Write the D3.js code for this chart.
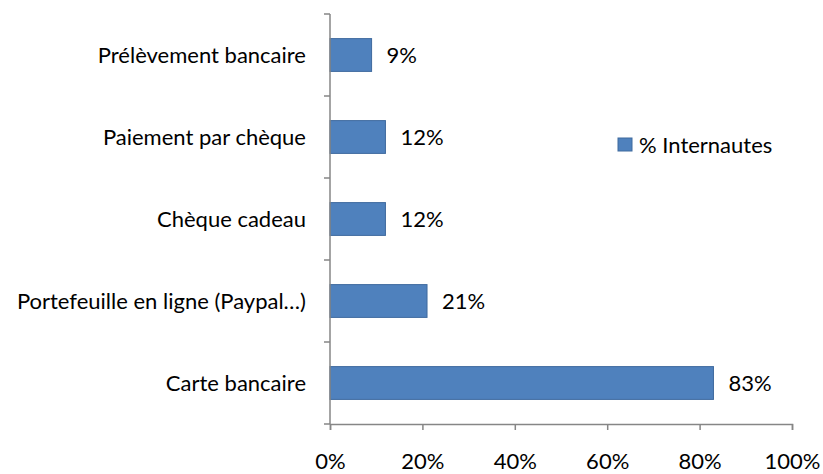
<!DOCTYPE html>
<html>
<head>
<meta charset="utf-8">
<script src="https://cdn.jsdelivr.net/npm/d3@7"></script>
<style>
  body { margin: 0; background: #fff; }
  svg text { font-family: Lato, "Open Sans", sans-serif; font-size: 22px; fill: #000; }
</style>
</head>
<body>
<svg id="chart"></svg>
<script>
// values, top to bottom
const categories = ["Prélèvement bancaire", "Paiement par chèque", "Chèque cadeau", "Portefeuille en ligne (Paypal…)", "Carte bancaire"];
const values = [9, 12, 12, 21, 83];
const xTicks = [0, 20, 40, 60, 80, 100];
const seriesName = "% Internautes";

const W = 823, H = 474;
const margin = { top: 14, right: 31, bottom: 50, left: 330 };
const width = W - margin.left - margin.right;
const height = H - margin.top - margin.bottom;

const svg = d3.select("#chart").attr("width", W).attr("height", H);
const g = svg.append("g").attr("transform", "translate(" + margin.left + "," + margin.top + ")");

const x = d3.scaleLinear().domain([0, 100]).range([0, width]);
const y = d3.scaleBand().domain(categories).range([0, height]).paddingInner(0.6).paddingOuter(0.3);
const band = d3.scaleBand().domain(categories).range([0, height]); // for tick marks between cats

// bars
g.selectAll("rect.bar")
  .data(values)
  .enter().append("rect")
  .attr("class", "bar")
  .attr("x", 0)
  .attr("y", (d, i) => y(categories[i]))
  .attr("width", d => x(d))
  .attr("height", y.bandwidth())
  .attr("fill", "#4f81bd")
  .attr("stroke", "#3f6a9e")
  .attr("stroke-width", 1);

// value labels
g.selectAll("text.val")
  .data(values)
  .enter().append("text")
  .attr("class", "val")
  .attr("x", d => x(d) + 15)
  .attr("y", (d, i) => y(categories[i]) + y.bandwidth() / 2)
  .attr("dy", "0.36em")
  .text(d => d + "%");

const axisColor = "#868686";

// y axis: line plus ticks at band edges
g.append("line")
  .attr("x1", 0).attr("x2", 0)
  .attr("y1", 0).attr("y2", height)
  .attr("stroke", axisColor).attr("stroke-width", 1.5);
const edges = categories.map(c => band(c)).concat([height]);
g.selectAll("line.ytick")
  .data(edges)
  .enter().append("line")
  .attr("class", "ytick")
  .attr("x1", -6).attr("x2", 0)
  .attr("y1", d => d).attr("y2", d => d)
  .attr("stroke", axisColor).attr("stroke-width", 1.5);

// category labels
g.selectAll("text.cat")
  .data(categories)
  .enter().append("text")
  .attr("class", "cat")
  .attr("x", -24)
  .attr("y", d => band(d) + band.bandwidth() / 2)
  .attr("dy", "0.36em")
  .attr("text-anchor", "end")
  .text(d => d);

// x axis
const xAxis = g.append("g")
  .attr("transform", "translate(0," + height + ")")
  .call(d3.axisBottom(x).tickValues(xTicks).tickSize(6).tickPadding(23).tickFormat(d => d + "%"));
xAxis.select(".domain").attr("stroke", axisColor).attr("stroke-width", 1.5);
xAxis.selectAll(".tick line").attr("stroke", axisColor).attr("stroke-width", 1.5);
xAxis.selectAll(".tick text").style("font-family", "Lato, 'Open Sans', sans-serif").style("font-size", "22px").attr("fill", "#000");

// legend
const legend = svg.append("g").attr("transform", "translate(618,138)");
legend.append("rect")
  .attr("width", 14).attr("height", 13)
  .attr("fill", "#4f81bd").attr("stroke", "#3f6a9e");
legend.append("text")
  .attr("x", 21).attr("y", 7)
  .attr("dy", "0.36em")
  .text(seriesName);
</script>
</body>
</html>
